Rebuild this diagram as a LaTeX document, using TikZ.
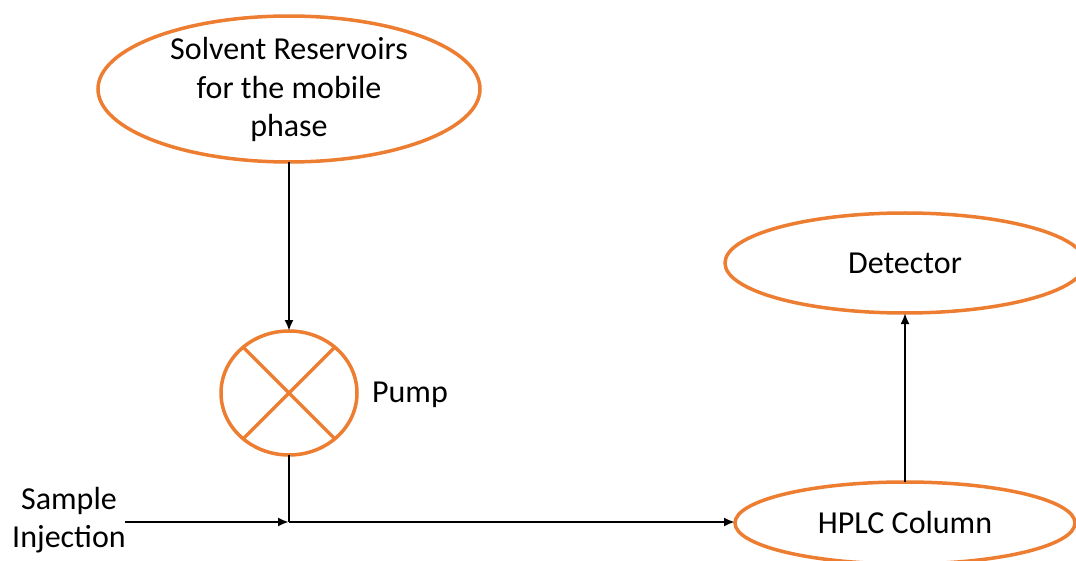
\documentclass[tikz,border=0pt]{standalone}
\usepackage{fontspec}
\setmainfont{Carlito}
\usetikzlibrary{shapes.geometric,arrows.meta}
\definecolor{offorange}{HTML}{ED7D31}
\tikzset{
  oval/.style={ellipse, draw=offorange, line width=3.5pt, inner sep=0pt, outer sep=0pt, align=center, font=\fontsize{32}{38.5}\selectfont},
  lbl/.style={align=center, font=\fontsize{32}{38.5}\selectfont, inner sep=0pt},
  flow/.style={draw=black, line width=2.3pt, -{Latex[length=11pt,width=9pt]}},
  plain/.style={draw=black, line width=2.3pt},
  crossline/.style={draw=offorange, line width=3.5pt}
}
\begin{document}
\begin{tikzpicture}[x=1pt,y=-1pt]
\useasboundingbox (0,0) rectangle (1076,561);
\clip (0,0) rectangle (1076,561);
\node[oval, minimum width=382pt, minimum height=144pt, text depth=4pt] (solv) at (289,89) {Solvent Reservoirs\\for the mobile\\phase};
\node[oval, minimum width=136pt, minimum height=124pt] (pump) at (289,393) {};
\draw[crossline] (pump.135) -- (pump.-45);
\draw[crossline] (pump.45) -- (pump.-135);
\node[lbl] (pumplbl) at (410,395) {Pump};
\node[oval, minimum width=360pt, minimum height=100pt] (det) at (905,263) {Detector};
\node[oval, minimum width=340pt, minimum height=82pt] (hplc) at (905,523) {HPLC Column};
\node[lbl] (sample) at (69,520) {Sample\\Injection};
\coordinate (j) at (289,522);
\coordinate (s0) at (125,522);
\draw[flow] (solv.south) -- (pump.north);
\draw[plain] (pump.south) -- (j);
\draw[flow] (s0) -- (j);
\draw[flow] (j) -- (hplc.west |- j);
\draw[flow] (hplc.north) -- (det.south);
\end{tikzpicture}
\end{document}
